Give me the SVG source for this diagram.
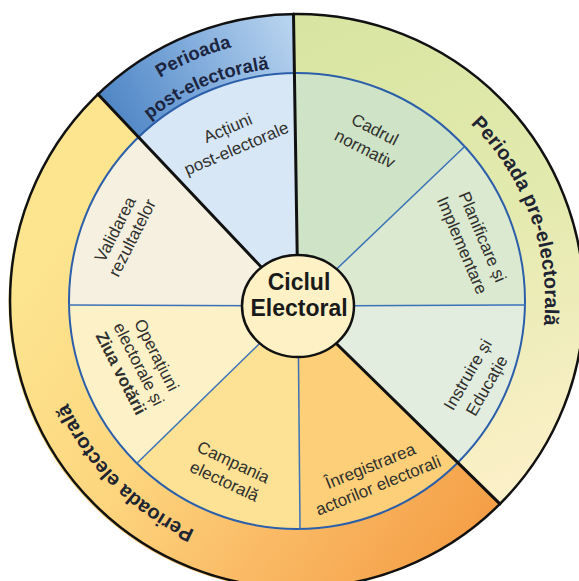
<svg xmlns="http://www.w3.org/2000/svg" width="579" height="581" viewBox="0 0 579 581">
<defs>
<style>
.band{font-family:"Liberation Sans",Arial,sans-serif;font-weight:bold;font-size:20px;fill:#1e2432}
.bandS{font-family:"Liberation Sans",Arial,sans-serif;font-weight:bold;font-size:18.5px;fill:#1c2540}
.lbl{font-family:"Liberation Sans",Arial,sans-serif;font-size:17px;fill:#30302e;text-anchor:middle}
.ctr{font-family:"Liberation Sans",Arial,sans-serif;font-weight:bold;font-size:23px;fill:#1a1a1a;text-anchor:middle}
.blk{stroke:#111;stroke-width:3;fill:none;stroke-linecap:round}
.thin{stroke:#3a72b8;stroke-width:1.5;fill:none}
</style>
<linearGradient id="gPost" gradientUnits="userSpaceOnUse" x1="110" y1="125" x2="290" y2="30">
<stop offset="0" stop-color="#4d84c4"/><stop offset="0.5" stop-color="#7eaadb"/><stop offset="1" stop-color="#b6d2ee"/>
</linearGradient>
<linearGradient id="gPre" gradientUnits="userSpaceOnUse" x1="300" y1="20" x2="500" y2="490">
<stop offset="0" stop-color="#d8e5a2"/><stop offset="0.5" stop-color="#e3eaae"/><stop offset="1" stop-color="#fcf0c8"/>
</linearGradient>
<linearGradient id="gEl" gradientUnits="userSpaceOnUse" x1="60" y1="220" x2="480" y2="520">
<stop offset="0" stop-color="#fde590"/><stop offset="0.4" stop-color="#fdd57e"/><stop offset="0.7" stop-color="#fab964"/><stop offset="1" stop-color="#f5a048"/>
</linearGradient>
<path id="arcPre" d="M340.1,56.8 A248,248 0 0 1 487,460.4"/>
<path id="arcEl" d="M362,543.4 A251,251 0 0 1 54.6,236"/>
<path id="arcPost1" d="M37,269.1 A262,262 0 0 1 454.7,91.8"/>
<path id="arcPost2" d="M65.2,272.5 A233.5,233.5 0 0 1 437.5,114.5"/>
</defs>

<g id="period-post">
<path d="M98,94.2 A287,287 0 0 1 293.5,14 L294.2,73 A228,228 0 0 0 138.9,136.7 Z" fill="url(#gPost)"/>
<text class="bandS"><textPath href="#arcPost1" startOffset="50%" text-anchor="middle">Perioada</textPath><textPath href="#arcPost2" startOffset="50%" text-anchor="middle">post-electorală</textPath></text>
</g>
<g id="period-pre">
<path d="M293.5,14 A287,287 0 0 1 499.9,503.9 L458.2,462.2 A228,228 0 0 0 294.2,73 Z" fill="url(#gPre)"/>
<text class="band"><textPath href="#arcPre" startOffset="50%" text-anchor="middle">Perioada pre-electorală</textPath></text>
</g>
<g id="period-electoral">
<path d="M499.9,503.9 A287,287 0 1 1 98,94.2 L138.9,136.7 A228,228 0 1 0 458.2,462.2 Z" fill="url(#gEl)"/>
<text class="band"><textPath href="#arcEl" startOffset="50%" text-anchor="middle">Perioada electorală</textPath></text>
</g>

<g id="actiuni">
<path d="M298,306 L138.9,136.7 A228,228 0 0 1 294.2,73 Z" fill="#d8e7f6"/>
<text class="lbl" transform="translate(232,138) rotate(-23)"><tspan x="0" y="-5">Acțiuni</tspan><tspan x="0" y="17">post-electorale</tspan></text>
</g>
<g id="cadrul">
<path d="M298,306 L294.2,73 A228,228 0 0 1 464.7,146.5 Z" fill="#cfe3c7"/>
<text class="lbl" transform="translate(370,139) rotate(27)"><tspan x="0" y="-5">Cadrul</tspan><tspan x="0" y="17">normativ</tspan></text>
</g>
<g id="planificare">
<path d="M298,306 L464.7,146.5 A228,228 0 0 1 525,305 Z" fill="#dbe9d0"/>
<text class="lbl" transform="translate(472.5,241) rotate(67)"><tspan x="0" y="-5">Planificare și</tspan><tspan x="0" y="17">Implementare</tspan></text>
</g>
<g id="instruire">
<path d="M298,306 L525,305 A228,228 0 0 1 458.2,462.2 Z" fill="#e2ede0"/>
<text class="lbl" transform="translate(477,380) rotate(-60)"><tspan x="0" y="-5">Instruire și</tspan><tspan x="0" y="17">Educație</tspan></text>
</g>
<g id="inregistrarea">
<path d="M298,306 L458.2,462.2 A228,228 0 0 1 300,529 Z" fill="#fdcf78"/>
<text class="lbl" transform="translate(374,475) rotate(-22)"><tspan x="0" y="-4">Înregistrarea</tspan><tspan x="0" y="17">actorilor electorali</tspan></text>
</g>
<g id="campania">
<path d="M298,306 L300,529 A228,228 0 0 1 136.9,463.3 Z" fill="#fde295"/>
<text class="lbl" transform="translate(229,471.5) rotate(25)"><tspan x="0" y="-4.5">Campania</tspan><tspan x="0" y="16.5">electorală</tspan></text>
</g>
<g id="operatiuni">
<path d="M298,306 L136.9,463.3 A228,228 0 0 1 69,305 Z" fill="#fdf1c8"/>
<text class="lbl" transform="translate(139,364) rotate(63)"><tspan x="0" y="-14">Operațiuni</tspan><tspan x="0" y="6">electorale și</tspan><tspan x="0" y="26" font-weight="bold">Ziua votării</tspan></text>
</g>
<g id="validarea">
<path d="M298,306 L69,305 A228,228 0 0 1 138.9,136.7 Z" fill="#f6f0e0"/>
<text class="lbl" transform="translate(123.5,233.5) rotate(-63)"><tspan x="0" y="-3.5">Validarea</tspan><tspan x="0" y="15.5">rezultatelor</tspan></text>
</g>

<g id="connectors">
<circle cx="297" cy="301" r="228" fill="none" stroke="#2c5fa9" stroke-width="2"/>
<path class="thin" d="M298,306 L464.7,146.5"/>
<path class="thin" d="M298,306 L525,305"/>
<path class="thin" d="M298,306 L69,305"/>
<path class="thin" d="M298,306 L136.9,463.3" stroke="#6683a0"/>
<path class="thin" d="M298,306 L300,529" stroke="#8b9089"/>
<path class="blk" d="M298,306 L293.5,14"/>
<path class="blk" d="M298,306 L499.9,503.9"/>
<path class="blk" d="M298,306 L98,94.2"/>
<circle cx="297" cy="301" r="287" fill="none" stroke="#111" stroke-width="2.5"/>
</g>

<g id="center">
<ellipse cx="298" cy="306" rx="56" ry="51" fill="#fdf1c5" stroke="#111" stroke-width="2.5"/>
<text class="ctr"><tspan x="299" y="290">Ciclul</tspan><tspan x="299" y="316">Electoral</tspan></text>
</g>
</svg>
